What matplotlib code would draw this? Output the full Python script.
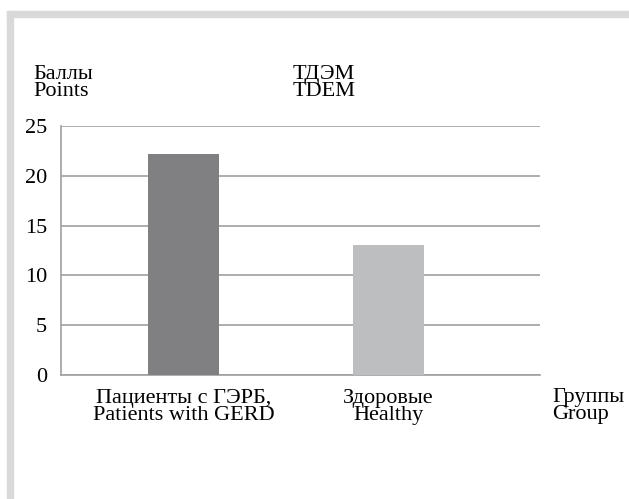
import matplotlib
matplotlib.use("Agg")
import matplotlib.pyplot as plt
from matplotlib.patches import Rectangle

categories = ["Пациенты с ГЭРБ,\nPatients with GERD", "Здоровые\nHealthy"]
values = [22.2, 13.1]
bar_colors = ["#808083", "#bdbec0"]
yticks = [0, 5, 10, 15, 20, 25]

plt.rcParams['font.family'] = ['Liberation Serif', 'DejaVu Serif']
fs = 16
ls = 0.87

fig = plt.figure(figsize=(6.29, 4.99), dpi=100)

# light gray frame on top and left
fig.patches.append(Rectangle((7/629, 0), 6/629, 1 - 11/499, transform=fig.transFigure,
                             color="#d9d9d9", zorder=0))
fig.patches.append(Rectangle((7/629, 1 - 17/499), 1, 6/499, transform=fig.transFigure,
                             color="#d9d9d9", zorder=0))

ax = fig.add_axes([61/629, 1 - 375/499, (540 - 61)/629, (375 - 126)/499])
x = list(range(len(categories)))
ax.bar(x, values, width=0.347, color=bar_colors, zorder=3)

ax.set_xlim(-0.6, 1.741)
ax.set_ylim(0, 25)
ax.set_yticks(yticks)
ax.set_yticklabels([str(t) for t in yticks], fontsize=fs)
ax.yaxis.grid(True, color="#a0a0a0", linewidth=1.2, zorder=0)
ax.set_xticks(x)
ax.set_xticklabels(categories, fontsize=fs, linespacing=ls)
ax.tick_params(axis="both", length=0)
ax.tick_params(axis="y", pad=10)
ax.tick_params(axis="x", pad=10)
for side in ["top", "right"]:
    ax.spines[side].set_visible(False)
ax.spines["left"].set_color("#a0a0a0")
ax.spines["bottom"].set_color("#a0a0a0")
ax.spines["left"].set_linewidth(1.2)
ax.spines["bottom"].set_linewidth(1.2)

fig.text(33/629, 1 - 65/499, "Баллы\nPoints", fontsize=fs, va="top", ha="left", linespacing=ls)
fig.text(324/629, 1 - 65/499, "ТДЭМ\nTDEM", fontsize=fs, va="top", ha="center", linespacing=ls)
fig.text(552/629, 1 - 388/499, "Группы\nGroup", fontsize=fs, va="top", ha="left", linespacing=ls)

fig.savefig("out.png", dpi=100)
